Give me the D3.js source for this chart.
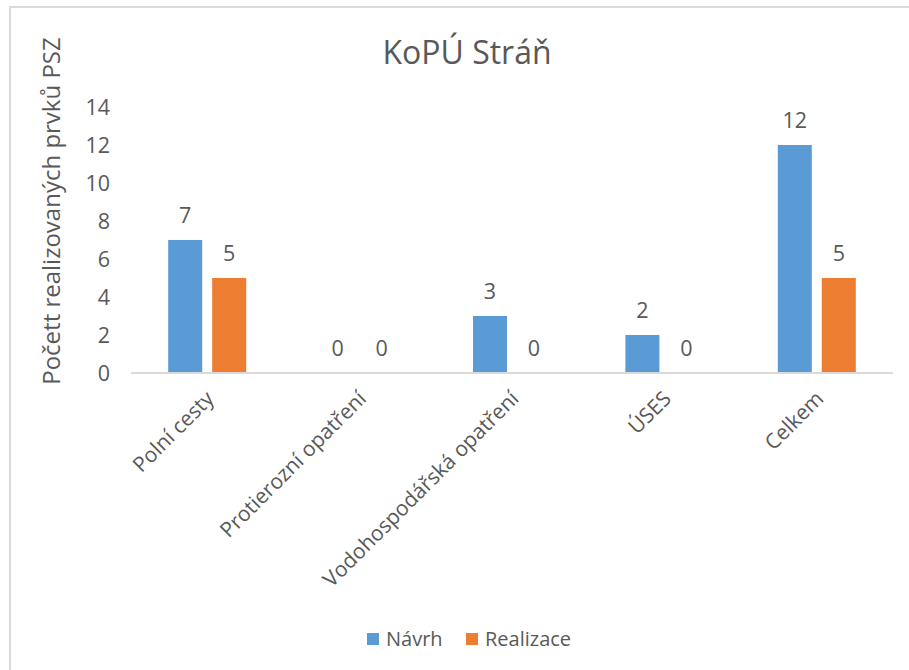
<!DOCTYPE html>
<html>
<head>
<meta charset="utf-8">
<script src="https://cdn.jsdelivr.net/npm/d3@7"></script>
<style>
  body { margin: 0; background: #fff; }
  text { font-family: "Open Sans", sans-serif; fill: #595959; }
</style>
</head>
<body>
<div id="chart"></div>
<script>
// data
var categories = ["Polní cesty", "Protierozní opatření", "Vodohospodářská opatření", "ÚSES", "Celkem"];
var series = ["Návrh", "Realizace"];
var navrh = [7, 0, 3, 2, 12];
var realizace = [5, 0, 0, 0, 5];
var yTicks = [0, 2, 4, 6, 8, 10, 12, 14];
var colors = ["#5B9BD5", "#ED7D31"];

var width = 909, height = 670;
var margin = {left: 131, right: 16, top: 107, bottom: 297};

var svg = d3.select("#chart").append("svg")
    .attr("width", width)
    .attr("height", height);

// chart frame (only top and left edges are visible in the crop)
svg.append("path")
    .attr("d", "M10,670 V7 H909")
    .attr("fill", "none")
    .attr("stroke", "#d9d9d9")
    .attr("stroke-width", 2);

// table for the bars
var rows = [];
categories.forEach(function(c, i) {
  rows.push({cat: c, s: series[0], v: navrh[i]});
  rows.push({cat: c, s: series[1], v: realizace[i]});
});

var x0 = d3.scaleBand()
    .domain(categories)
    .range([margin.left, width - margin.right]);

var x1 = d3.scaleBand()
    .domain(series)
    .range([x0.bandwidth() / 2 - 39, x0.bandwidth() / 2 + 39])
    .paddingInner(0.227);

var yScale = d3.scaleLinear()
    .domain([0, 14])
    .range([height - margin.bottom, margin.top]);

// y tick labels (no axis line in the original)
svg.selectAll(".ytick")
    .data(yTicks)
    .enter()
    .append("text")
    .attr("class", "ytick")
    .attr("x", 110)
    .attr("y", function(d) { return yScale(d); })
    .attr("dy", "0.36em")
    .attr("text-anchor", "end")
    .style("font-size", "21.5px")
    .text(function(d) { return d; });

// bars
svg.selectAll("rect.bar")
    .data(rows)
    .enter()
    .append("rect")
    .attr("class", "bar")
    .attr("x", function(d) { return x0(d.cat) + x1(d.s); })
    .attr("y", function(d) { return yScale(d.v); })
    .attr("width", x1.bandwidth())
    .attr("height", function(d) { return yScale(0) - yScale(d.v); })
    .attr("fill", function(d) { return colors[series.indexOf(d.s)]; });

// value labels
svg.selectAll(".val")
    .data(rows)
    .enter()
    .append("text")
    .attr("class", "val")
    .attr("x", function(d) { return x0(d.cat) + x1(d.s) + x1.bandwidth() / 2; })
    .attr("y", function(d) { return yScale(d.v) - 17; })
    .attr("text-anchor", "middle")
    .style("font-size", "21.5px")
    .text(function(d) { return d.v; });

// x axis line
svg.append("line")
    .attr("x1", margin.left)
    .attr("x2", width - margin.right)
    .attr("y1", yScale(0))
    .attr("y2", yScale(0))
    .attr("stroke", "#d9d9d9")
    .attr("stroke-width", 2);

// category labels, rotated
svg.selectAll(".xlab")
    .data(categories)
    .enter()
    .append("text")
    .attr("class", "xlab")
    .attr("text-anchor", "end")
    .attr("transform", function(d) {
      return "translate(" + [x0(d) + x0.bandwidth() / 2 + 8, yScale(0) + 27] + ") rotate(-45)";
    })
    .style("font-size", "21px")
    .text(function(d) { return d; });

// title
svg.append("text")
    .attr("x", 467)
    .attr("y", 64)
    .attr("text-anchor", "middle")
    .style("font-size", "32px")
    .text("KoPÚ Stráň");

// y axis title
svg.append("text")
    .attr("text-anchor", "middle")
    .attr("transform", "translate(" + [60, 211] + ") rotate(-90)")
    .style("font-size", "24px")
    .text("Počett realizovaných prvků PSZ");

// legend
var legend = svg.selectAll(".legend")
    .data(series)
    .enter()
    .append("g")
    .attr("class", "legend")
    .attr("transform", function(d, i) { return "translate(" + [367 + i * 99, 633] + ")"; });

legend.append("rect")
    .attr("width", 12)
    .attr("height", 12)
    .attr("fill", function(d, i) { return colors[i]; });

legend.append("text")
    .attr("x", 19)
    .attr("y", 12.5)
    .style("font-size", "20px")
    .text(function(d) { return d; });
</script>
</body>
</html>
